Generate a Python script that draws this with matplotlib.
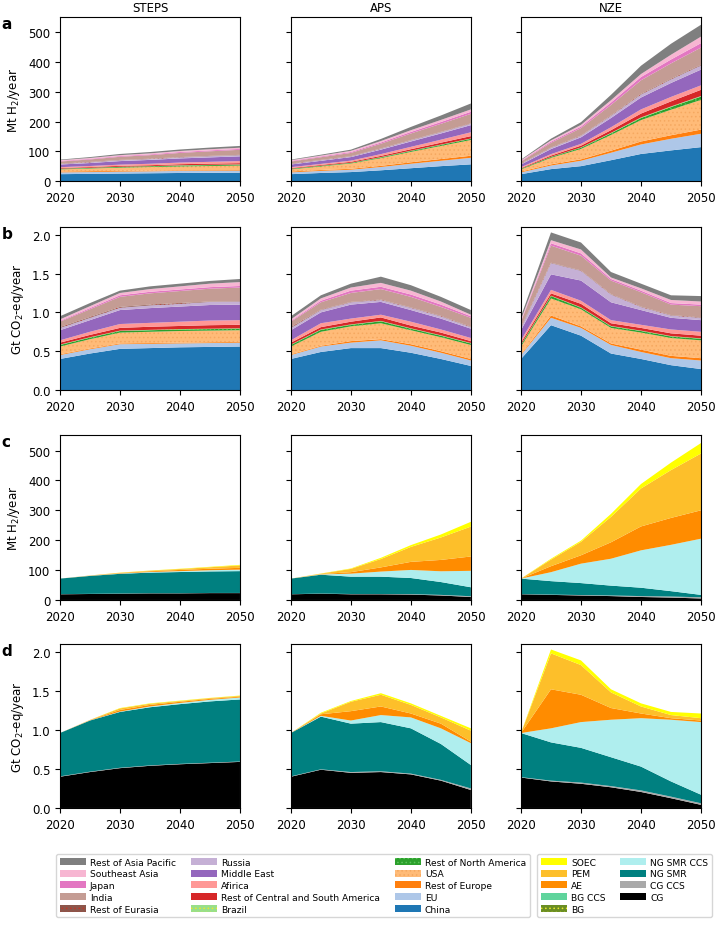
import numpy as np
import matplotlib.pyplot as plt
from matplotlib.patches import Patch

plt.rcParams['hatch.linewidth'] = 0.6

years = [2020, 2025, 2030, 2035, 2040, 2045, 2050]
scenarios = ['STEPS', 'APS', 'NZE']

# --- regions (stack order, bottom -> top) ---
regions = ['China', 'EU', 'Rest of Europe', 'USA', 'Rest of North America', 'Brazil',
           'Rest of Central and South America', 'Afirica', 'Middle East', 'Russia',
           'Rest of Eurasia', 'India', 'Japan', 'Southeast Asia', 'Rest of Asia Pacific']
region_colors = ['#1f77b4', '#aec7e8', '#ff7f0e', '#ffbb78', '#2ca02c', '#98df8a',
                 '#d62728', '#ff9896', '#9467bd', '#c5b0d5', '#8c564b', '#c49c94',
                 '#e377c2', '#f7b6d2', '#7f7f7f']
region_hatch = ['', '', '', '....', '....', '....', '', '', '', '', '....', '', '', '', '']
region_hatch_col = ['', '', '', '#f5a860', '#5cc45c', '#e8e830', '', '', '', '', '#c0392b', '', '', '', '']

# hydrogen production by region, Mt H2/year (rows = regions, cols = years)
h2_steps = [
    [23, 24, 25, 26, 27, 27.5, 28],
    [6, 6, 6.5, 6.5, 7, 7, 7],
    [3, 3, 2.5, 2.5, 2, 2, 2],
    [7, 9, 11, 12, 13, 14, 15],
    [2, 2, 2.5, 2.5, 3, 3, 3],
    [0.5, 0.5, 0.5, 0.5, 1, 1, 1],
    [2, 2.5, 3, 3, 3.5, 4, 4],
    [3, 3.5, 4, 5, 5.5, 6, 7],
    [9, 10, 12, 13, 14, 15, 16],
    [2, 2.5, 3, 3, 3.5, 4, 4],
    [1, 1, 1, 1, 1, 1, 1],
    [7, 8.5, 10.5, 12, 14, 15.5, 17],
    [2, 2, 2.5, 2.5, 3, 3, 3],
    [2.5, 3, 3, 3.5, 3.5, 4, 4],
    [2, 3, 4, 4.5, 5, 5.5, 6],
]
h2_aps = [
    [23, 27, 30, 36, 43, 50, 56],
    [6, 7, 8, 11, 15, 18, 22],
    [3, 3, 3, 4, 5, 6, 7],
    [7, 12, 18, 26, 35, 44, 53],
    [2, 2, 2, 2.5, 3, 3.5, 4],
    [0.5, 0.5, 0.5, 1, 1, 1, 1],
    [2, 2.5, 3, 4, 5, 6.5, 8],
    [3, 3.5, 4, 6, 8, 10, 13],
    [9, 10.5, 12, 15, 18, 21, 24],
    [2, 2, 2, 3, 4, 4.5, 5],
    [1, 1, 1, 1, 1, 1, 1],
    [7, 9, 11, 16, 22, 27, 32],
    [2, 2.5, 3, 4, 5, 6, 7],
    [2.5, 3, 4, 5, 6, 7, 8],
    [2, 3, 4, 7, 11, 15, 20],
]
h2_nze = [
    [23, 40, 50, 70, 91, 103, 114],
    [6, 12, 18, 25, 32, 39, 45],
    [3, 4, 5, 7, 10, 12, 14],
    [7, 22, 35, 53, 72, 86, 100],
    [2, 3, 4, 5.5, 7, 9, 11],
    [0.5, 0.5, 1, 1.5, 2, 2, 2],
    [2, 4, 6, 9, 13, 17, 21],
    [3, 5, 6, 10, 14, 15, 15],
    [9, 17, 22, 31, 40, 47, 53],
    [2, 4, 5, 7.5, 10, 12, 14],
    [1, 1, 1, 1.5, 2, 2, 2],
    [7, 16, 25, 35, 46, 52, 58],
    [2, 4, 5, 8, 11, 13, 15],
    [2.5, 4, 6, 8, 10, 16, 22],
    [2, 6, 9, 18, 28, 37, 40],
]

# emissions by region, Gt CO2-eq/year
co2_steps = [
    [.40, .47, .53, .54, .55, .555, .56],
    [.05, .055, .06, .055, .05, .05, .05],
    [.01, .01, .01, .01, .01, .01, .01],
    [.10, .12, .14, .145, .15, .15, .15],
    [.02, .02, .02, .02, .02, .02, .02],
    [.005, .005, .005, .005, .005, .005, .005],
    [.025, .03, .035, .04, .04, .045, .045],
    [.03, .04, .05, .05, .055, .06, .06],
    [.13, .15, .18, .19, .195, .20, .20],
    [.03, .03, .03, .035, .035, .04, .04],
    [.01, .01, .01, .01, .01, .005, .005],
    [.07, .10, .13, .145, .155, .165, .175],
    [.01, .015, .02, .02, .02, .02, .02],
    [.02, .025, .03, .035, .04, .045, .05],
    [.04, .04, .03, .035, .035, .035, .04],
]
co2_aps = [
    [.40, .49, .54, .54, .48, .40, .31],
    [.05, .07, .07, .10, .09, .08, .07],
    [.01, .01, .02, .015, .02, .02, .02],
    [.10, .18, .19, .205, .18, .18, .18],
    [.02, .025, .02, .025, .02, .02, .02],
    [.005, .005, .005, .005, .005, .005, .005],
    [.025, .03, .035, .045, .035, .035, .025],
    [.03, .05, .04, .035, .05, .04, .04],
    [.13, .14, .18, .165, .15, .14, .12],
    [.03, .03, .03, .025, .03, .03, .02],
    [.01, .005, .005, .005, .005, .005, .005],
    [.07, .095, .115, .135, .135, .115, .115],
    [.01, .02, .03, .03, .03, .03, .02],
    [.02, .03, .04, .05, .05, .04, .02],
    [.04, .04, .05, .08, .07, .06, .06],
]
co2_nze = [
    [.40, .835, .70, .47, .40, .32, .27],
    [.05, .095, .10, .11, .09, .09, .11],
    [.01, .03, .02, .02, .03, .03, .03],
    [.10, .22, .22, .20, .22, .23, .23],
    [.02, .03, .02, .02, .02, .02, .02],
    [.005, .005, .005, .005, .005, .005, .005],
    [.025, .03, .045, .035, .035, .035, .035],
    [.03, .045, .04, .04, .04, .05, .05],
    [.13, .20, .26, .23, .19, .15, .15],
    [.03, .145, .125, .10, .04, .03, .03],
    [.01, .005, .005, .005, .005, .005, .005],
    [.07, .22, .19, .175, .185, .135, .145],
    [.01, .03, .03, .02, .02, .02, .02],
    [.02, .04, .05, .02, .03, .04, .04],
    [.04, .10, .09, .07, .06, .06, .07],
]

# --- technologies (stack order, bottom -> top) ---
techs = ['CG', 'CG CCS', 'NG SMR', 'NG SMR CCS', 'BG', 'BG CCS', 'AE', 'PEM', 'SOEC']
tech_colors = ['#000000', '#a9a9a9', '#008080', '#afeeee', '#6b8e23', '#5fd49c',
               '#ff8c00', '#fdbf2a', '#ffff00']
tech_hatch = ['', '', '', '', '....', '', '', '', '']
tech_hatch_col = ['', '', '', '', '#e8e830', '', '', '', '']

h2_tech_steps = [
    [19, 20, 21, 22, 22, 23, 23],
    [0.5, 0.5, 0.5, 0.5, 0.5, 0.5, 0.5],
    [52, 60, 66, 69, 71, 72, 73],
    [0, 0.5, 1, 2, 3, 4, 5],
    [0, 0, 0, 0, 0, 0, 0],
    [0, 0, 0, 0, 0, 0, 0],
    [0, 0.5, 1.5, 2.5, 4, 5, 6],
    [0, 0.5, 1, 2, 3, 5, 8],
    [0, 0, 0.5, 0.5, 1, 1.5, 2],
]
h2_tech_aps = [
    [19, 21, 19, 19, 18, 15, 10],
    [0.5, 0.5, 1, 1, 1.5, 2, 2.5],
    [52, 63, 58, 58, 54, 43, 30],
    [0, 1, 10, 17, 27, 36, 55],
    [0, 0, 0, 0, 0, 0, 0],
    [0, 0, 0, 0, 0, 0, 0],
    [0, 1, 5, 14, 27, 38, 48],
    [0, 1.5, 11, 28, 50, 75, 100],
    [0, 0.5, 1.5, 4, 6, 10, 16],
]
h2_tech_nze = [
    [19, 17, 15, 13, 10, 8, 5],
    [0.5, 1, 1.5, 2, 3, 3.5, 4],
    [52, 45, 40, 33, 28, 18, 8],
    [0, 30, 65, 90, 125, 155, 188],
    [0, 0, 0, 0, 0, 0, 0],
    [0, 0, 0, 0, 0, 0, 0],
    [0, 20, 28, 55, 80, 90, 95],
    [0, 22, 45, 85, 127, 160, 190],
    [0, 3, 4, 10, 15, 25, 35],
]

co2_tech_steps = [
    [.40, .46, .51, .54, .56, .575, .59],
    [.005, .005, .005, .005, .005, .005, .005],
    [.555, .655, .715, .745, .765, .785, .795],
    [0, .002, .005, .01, .015, .02, .025],
    [0, 0, 0, 0, 0, 0, 0],
    [0, 0, 0, 0, 0, 0, 0],
    [0, .003, .02, .02, .015, .012, .01],
    [0, .003, .02, .015, .01, .01, .01],
    [0, 0, .005, .005, .005, .003, .005],
]
co2_tech_aps = [
    [.40, .49, .45, .46, .43, .35, .23],
    [.005, .005, .01, .01, .01, .01, .02],
    [.555, .675, .62, .63, .58, .46, .30],
    [0, .01, .04, .09, .14, .20, .28],
    [0, 0, 0, 0, 0, 0, 0],
    [0, 0, 0, 0, 0, 0, 0],
    [0, .02, .12, .11, .05, .06, .02],
    [0, .01, .12, .15, .11, .08, .14],
    [0, .01, .01, .02, .02, .02, .03],
]
co2_tech_nze = [
    [.39, .34, .31, .265, .205, .125, .04],
    [.005, .01, .015, .015, .02, .02, .02],
    [.565, .49, .445, .37, .305, .195, .11],
    [0, .18, .33, .48, .62, .79, .93],
    [0, 0, 0, 0, 0, 0, 0],
    [0, 0, 0, 0, 0, 0, 0],
    [0, .50, .35, .15, .06, .02, .02],
    [0, .46, .38, .20, .09, .04, .03],
    [0, .05, .06, .04, .04, .04, .06],
]

rows = [
    ([h2_steps, h2_aps, h2_nze], 'region', r'Mt H$_2$/year', 552, 'a'),
    ([co2_steps, co2_aps, co2_nze], 'region', r'Gt CO$_2$-eq/year', 2.1, 'b'),
    ([h2_tech_steps, h2_tech_aps, h2_tech_nze], 'tech', r'Mt H$_2$/year', 552, 'c'),
    ([co2_tech_steps, co2_tech_aps, co2_tech_nze], 'tech', r'Gt CO$_2$-eq/year', 2.1, 'd'),
]

fig = plt.figure(figsize=(7.2, 9.29), dpi=100)

lefts = [0.0833, 0.404, 0.7236]
bottoms = [0.8041, 0.5791, 0.3531, 0.1292]
heights = [0.1765, 0.1755, 0.1776, 0.1765]
fs = 8.5

for r, (datasets, kind, ylabel, ymax, letter) in enumerate(rows):
    if kind == 'region':
        colors, hatches, hcols = region_colors, region_hatch, region_hatch_col
    else:
        colors, hatches, hcols = tech_colors, tech_hatch, tech_hatch_col
    for c, data in enumerate(datasets):
        ax = fig.add_axes([lefts[c], bottoms[r], 0.25, heights[r]])
        polys = ax.stackplot(years, np.array(data), colors=colors, linewidth=0)
        for p, h, hc in zip(polys, hatches, hcols):
            if h:
                p.set_hatch(h)
                p.set_edgecolor(hc)
                p.set_linewidth(0)
        ax.set_xlim(2020, 2050)
        ax.set_ylim(0, ymax)
        ax.set_xticks([2020, 2030, 2040, 2050])
        ax.tick_params(labelsize=fs)
        if ymax > 10:
            ax.set_yticks([0, 100, 200, 300, 400, 500])
        else:
            ax.set_yticks([0, 0.5, 1.0, 1.5, 2.0])
        if c == 0:
            ax.set_ylabel(ylabel, fontsize=fs)
            ax.text(-0.325, 0.963, letter, transform=ax.transAxes, fontsize=11,
                    fontweight='bold', va='center', ha='left')
        else:
            ax.set_yticklabels([])
        if r == 0:
            ax.set_title(scenarios[c], fontsize=fs, pad=4)

# legends
leg_kw = dict(loc='upper left', fontsize=6.6, handlelength=2.85, handleheight=0.8,
              handletextpad=0.45, columnspacing=1.6, labelspacing=0.3,
              borderaxespad=0, borderpad=0.4)

reg_handles = [Patch(facecolor=region_colors[i], hatch=region_hatch[i],
                     edgecolor=region_hatch_col[i] if region_hatch[i] else region_colors[i],
                     linewidth=0, label=regions[i])
               for i in range(len(regions) - 1, -1, -1)]
fig.legend(handles=reg_handles, bbox_to_anchor=(0.0778, 0.0797), ncol=3, **leg_kw)

tech_handles = [Patch(facecolor=tech_colors[i], hatch=tech_hatch[i],
                      edgecolor=tech_hatch_col[i] if tech_hatch[i] else tech_colors[i],
                      linewidth=0, label=techs[i])
                for i in range(len(techs) - 1, -1, -1)]
fig.legend(handles=tech_handles, bbox_to_anchor=(0.7458, 0.0797), ncol=2, **leg_kw)

plt.savefig('out.png', dpi=100)
